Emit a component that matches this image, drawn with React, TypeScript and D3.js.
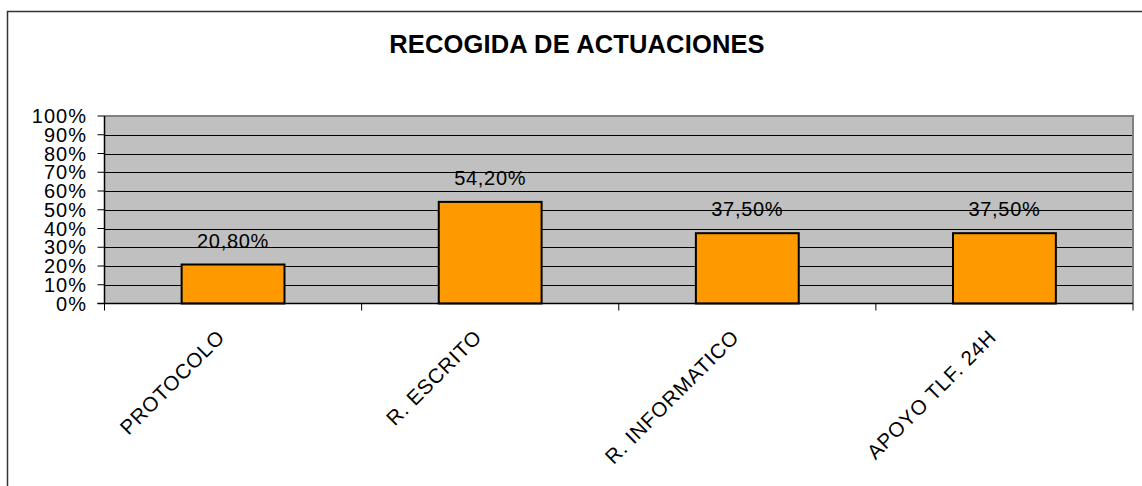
import React from 'react';
import * as d3 from 'd3';

const categories = ['PROTOCOLO', 'R. ESCRITO', 'R. INFORMATICO', 'APOYO TLF. 24H'];
const values = [20.8, 54.2, 37.5, 37.5];
const valueLabels = ['20,80%', '54,20%', '37,50%', '37,50%'];
const yTicks = [0, 10, 20, 30, 40, 50, 60, 70, 80, 90, 100];

const App = () => {
    const width = 1142;
    const height = 486;
    const plot = { left: 104.5, right: 1133, top: 116, bottom: 303.5 };
    const font = 'Liberation Sans, Arial, sans-serif';

    const x = d3.scaleBand()
        .domain(categories)
        .range([plot.left, plot.right])
        .paddingInner(0.6)
        .paddingOuter(0.3);

    const y = d3.scaleLinear()
        .domain([0, 100])
        .range([plot.bottom, plot.top]);

    const step = x.step();
    const bounds = d3.range(categories.length + 1).map(i => plot.left + i * step);

    return (
        <div style={{ position: 'fixed', left: 0, top: 0 }}>
            <svg width={width} height={height} viewBox={`0 0 ${width} ${height}`} style={{ display: 'block' }}>
                <rect x="0" y="0" width={width} height={height} fill="#ffffff" />
                {/* outer chart frame, runs off the right and bottom edges */}
                <rect x="7.5" y="11.5" width={width + 20} height={height + 20} fill="none" stroke="#333333" strokeWidth="1.5" />

                <text x={577} y={53} textAnchor="middle" fontFamily={font} fontWeight="bold" fontSize="25.5" letterSpacing="0.15">
                    RECOGIDA DE ACTUACIONES
                </text>

                <rect x={plot.left} y={plot.top} width={plot.right - plot.left} height={plot.bottom - plot.top} fill="#c0c0c0" />

                {yTicks.filter(t => t > 0 && t < 100).map(t => (
                    <line key={`g-${t}`} x1={plot.left} x2={plot.right} y1={Math.round(y(t)) + 0.5} y2={Math.round(y(t)) + 0.5} stroke="#000000" strokeWidth="1" />
                ))}

                {/* grey plot border on top and right */}
                <path d={`M${plot.left},${plot.top} H${plot.right} V${plot.bottom}`} fill="none" stroke="#808080" strokeWidth="2" />

                {values.map((v, i) => (
                    <rect
                        key={`bar-${i}`}
                        x={x(categories[i])}
                        y={y(v)}
                        width={x.bandwidth()}
                        height={plot.bottom - y(v)}
                        fill="#ff9900"
                        stroke="#000000"
                        strokeWidth="2"
                    />
                ))}

                {values.map((v, i) => (
                    <text
                        key={`val-${i}`}
                        x={(x(categories[i]) as number) + x.bandwidth() / 2}
                        y={y(v) - 17}
                        textAnchor="middle"
                        fontFamily={font}
                        fontSize="20"
                        letterSpacing="0.7"
                        fill="#000000"
                    >
                        {valueLabels[i]}
                    </text>
                ))}

                {/* axes */}
                <line x1={plot.left} x2={plot.left} y1={plot.top} y2={plot.bottom} stroke="#000000" strokeWidth="1.5" />
                <line x1={plot.left - 7} x2={plot.right} y1={plot.bottom} y2={plot.bottom} stroke="#000000" strokeWidth="1.5" />

                {yTicks.map(t => (
                    <g key={`yt-${t}`}>
                        <line x1={plot.left - 7} x2={plot.left} y1={y(t)} y2={y(t)} stroke="#000000" strokeWidth="1" />
                        <text x={87} y={y(t) + 7} textAnchor="end" fontFamily={font} fontSize="20" letterSpacing="1" fill="#000000">
                            {`${t}%`}
                        </text>
                    </g>
                ))}

                {bounds.map((b, i) => (
                    <line key={`xt-${i}`} x1={b} x2={b} y1={plot.bottom} y2={plot.bottom + 7} stroke="#000000" strokeWidth="1" />
                ))}

                {categories.map((c, i) => {
                    const cx = (x(c) as number) + x.bandwidth() / 2 - 7;
                    const cy = plot.bottom + 35;
                    return (
                        <text
                            key={`cat-${i}`}
                            transform={`translate(${cx},${cy}) rotate(-45)`}
                            textAnchor="end"
                            fontFamily={font}
                            fontSize="20.5"
                            letterSpacing="0.8"
                            fill="#000000"
                        >
                            {c}
                        </text>
                    );
                })}
            </svg>
        </div>
    );
};

export default App;
